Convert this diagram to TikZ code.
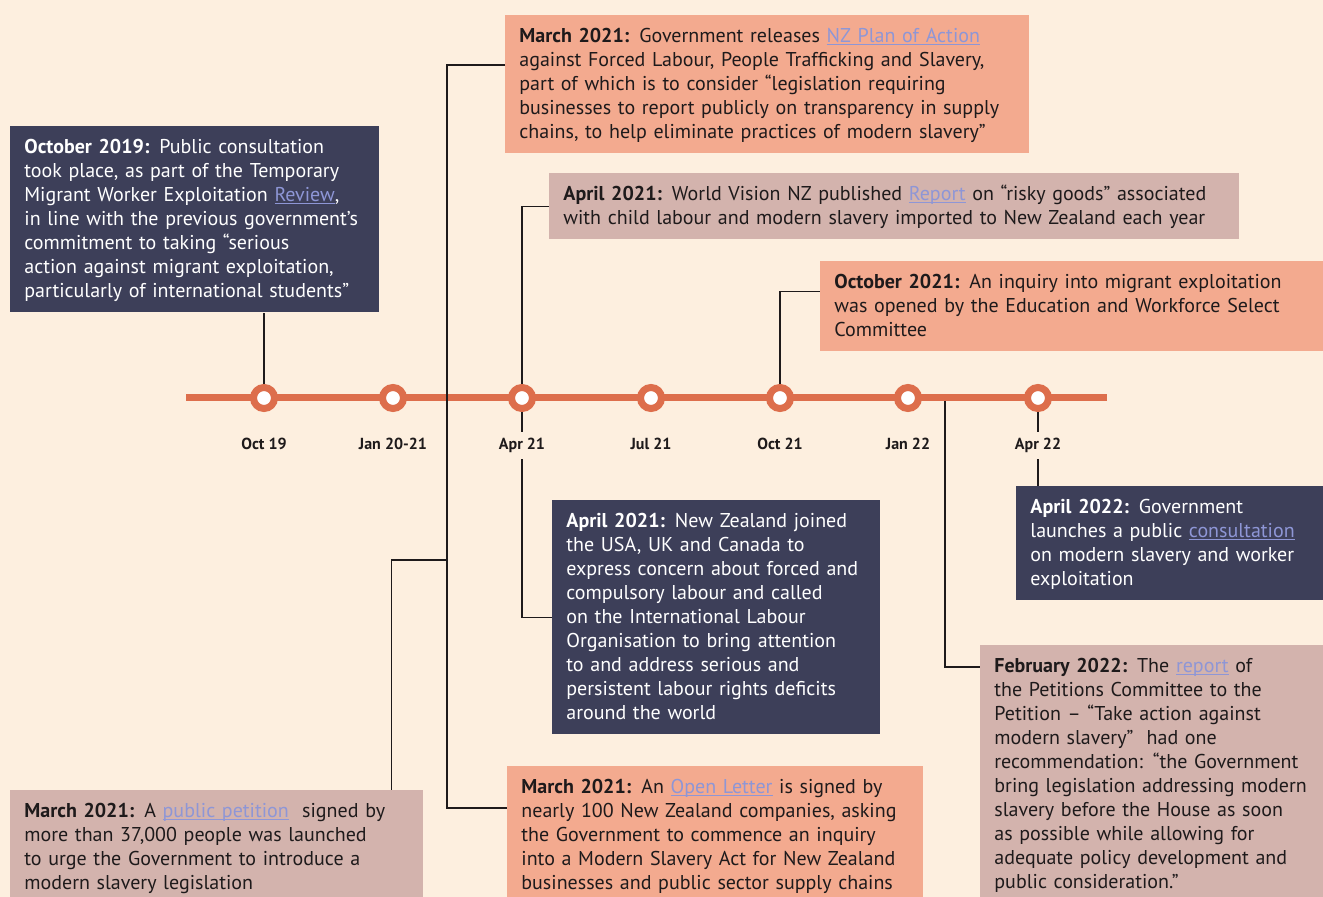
\documentclass[tikz,border=0pt]{standalone}
\usepackage{fontspec}
\setmainfont{PT Sans}
\usetikzlibrary{positioning}
\definecolor{bgcream}{HTML}{FDEFDF}
\definecolor{navy}{HTML}{3D3F59}
\definecolor{salmon}{HTML}{F3AA8F}
\definecolor{mauve}{HTML}{D3B3AD}
\definecolor{rust}{HTML}{DD6E4C}
\definecolor{linkblue}{HTML}{8E96D6}
\definecolor{ink}{HTML}{1E1A1B}
\newcommand{\weblink}[1]{\textcolor{linkblue}{\setbox0\hbox{#1}\rlap{\rule[-1.6pt]{\wd0}{0.5pt}}\box0}}
\begin{document}
\begin{tikzpicture}[
		x=0.5pt, y=-0.5pt,
		box/.style={anchor=north west, align=left, inner xsep=7pt, inner ysep=5pt,
				font=\fontsize{10}{12}\selectfont,
				execute at begin node=\strut, execute at end node={\rule[-2.5pt]{0pt}{0pt}}},
		navybox/.style={box, fill=navy, text=white},
		salmonbox/.style={box, fill=salmon, text=ink},
		mauvebox/.style={box, fill=mauve, text=ink},
		dot/.style={circle, draw=rust, line width=3.5pt, fill=white, minimum size=10.5pt, inner sep=0pt, outer sep=1.75pt},
		datelbl/.style={anchor=base, fill=bgcream, text=ink, font=\fontsize{8}{9}\selectfont\bfseries,
				text height=6pt, text depth=1.5pt, inner xsep=2pt, inner ysep=3pt},
		conn/.style={draw=ink, line width=0.6pt}
	]
	\fill[bgcream] (0,0) rectangle (1323,897);
	\useasboundingbox (0,0) rectangle (1323,897);
	\clip (0,0) rectangle (1323,897);

	% timeline
	\draw[rust, line width=3.5pt] (186,398) -- (1107,398);
	\foreach \x [count=\i] in {264,393,522,651,780,908,1038}
	\node[dot] (t\i) at (\x,398) {};

	% boxes above
	\node[navybox, text width=170.5pt] (oct19) at (10,126) {\textbf{October 2019:} Public consultation\\
		took place, as part of the Temporary\\
		Migrant Worker Exploitation \weblink{Review},\\
		in line with the previous government’s\\
		commitment to taking “serious\\
		action against migrant exploitation,\\
		particularly of international students”};
	\node[salmonbox, text width=248pt] (plan) at (505,15) {\textbf{March 2021:} Government releases \weblink{NZ Plan of Action}\\
		against Forced Labour, People Trafficking and Slavery,\\
		part of which is to consider “legislation requiring\\
		businesses to report publicly on transparency in supply\\
		chains, to help eliminate practices of modern slavery”};
	\node[mauvebox, text width=331pt] (worldvision) at (549,173) {\textbf{April 2021:} World Vision NZ published \weblink{Report} on “risky goods” associated\\
		with child labour and modern slavery imported to New Zealand each year};
	\node[salmonbox, text width=260pt] (inquiry) at (820,261) {\textbf{October 2021:} An inquiry into migrant exploitation\\
		was opened by the Education and Workforce Select\\
		Committee};

	% boxes below
	\node[navybox, text width=150pt] (ilo) at (552,500) {\textbf{April 2021:} New Zealand joined\\
		the USA, UK and Canada to\\
		express concern about forced and\\
		compulsory labour and called\\
		on the International Labour\\
		Organisation to bring attention\\
		to and address serious and\\
		persistent labour rights deficits\\
		around the world};
	\node[navybox, text width=150pt] (consult) at (1016,486) {\textbf{April 2022:} Government\\
		launches a public \weblink{consultation}\\
		on modern slavery and worker\\
		exploitation};
	\node[mauvebox, text width=165pt] (petreport) at (980,645) {\textbf{February 2022:} The \weblink{report} of\\
		the Petitions Committee to the\\
		Petition – “Take action against\\
		modern slavery”~ had one\\
		recommendation: “the Government\\
		bring legislation addressing modern\\
		slavery before the House as soon\\
		as possible while allowing for\\
		adequate policy development and\\
		public consideration.”};
	\node[mauvebox, text width=192.5pt] (petition) at (10,790) {\textbf{March 2021:} A \weblink{public petition}~ signed by\\
		more than 37,000 people was launched\\
		to urge the Government to introduce a\\
		modern slavery legislation};
	\node[salmonbox, text width=194pt] (openletter) at (507,766) {\textbf{March 2021:} An \weblink{Open Letter} is signed by\\
		nearly 100 New Zealand companies, asking\\
		the Government to commence an inquiry\\
		into a Modern Slavery Act for New Zealand\\
		businesses and public sector supply chains};

	% connectors
	\coordinate (mar21top) at (447,65);
	\coordinate (mar21fork) at (447,560);
	\coordinate (mar21end) at (447,808);
	\coordinate (feb22) at (945,401);
	\draw[conn] (mar21top -| plan.west) -- (mar21top) -- (mar21end) -- (mar21end -| openletter.west);
	\draw[conn] (mar21fork) -| ([xshift=-16pt]petition.north east);
	\draw[conn] (t1) -- (t1 |- oct19.south);
	\draw[conn] (t3) |- (worldvision.west);
	\draw[conn] (t3) |- (ilo.west);
	\draw[conn] (t5) |- ([yshift=7.5pt]inquiry.west);
	\draw[conn] (t7) -- (t7 |- consult.north);
	\draw[conn] (feb22) |- ([yshift=-11pt]petreport.north west);

	% dates
	\foreach \x/\d [count=\i] in {264/Oct 19, 393/Jan 20-21, 522/Apr 21, 651/Jul 21, 780/Oct 21, 908/Jan 22, 1038/Apr 22}
	\node[datelbl] (d\i) at (\x,450) {\d};
\end{tikzpicture}
\end{document}
